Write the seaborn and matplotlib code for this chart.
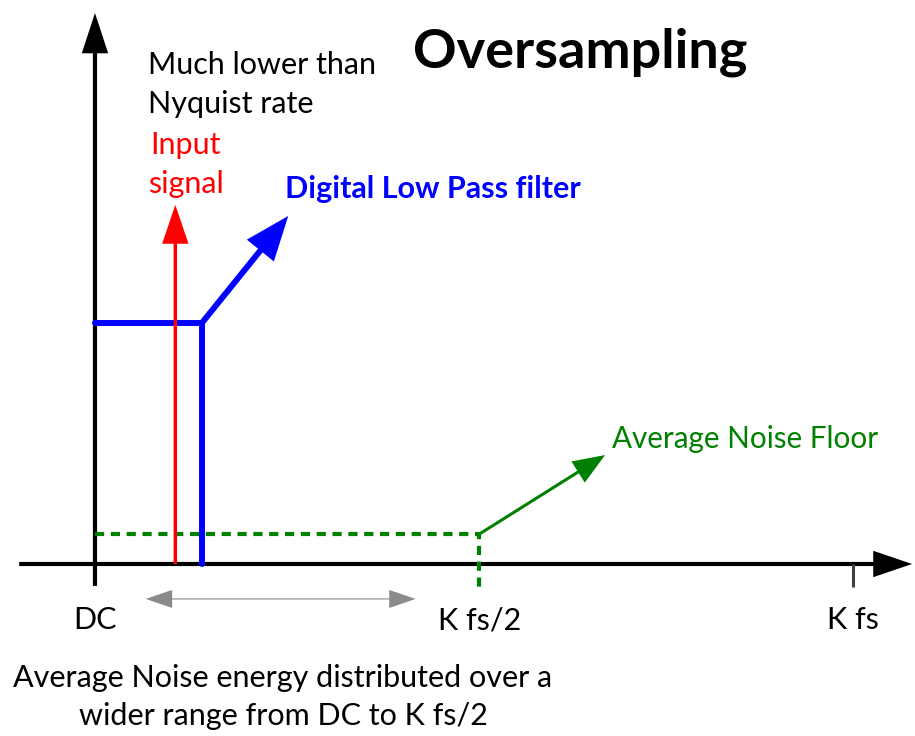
import matplotlib
matplotlib.use("Agg")
import matplotlib.pyplot as plt
import seaborn as sns

# values
# x: DC = 0 ... K fs = 1,  y: filter pass band level = 1
freq_labels = ["DC", "K fs/2", "K fs"]
freq_pos = [0.0, 0.507, 1.0]

signal_freq = 0.106
signal_amp = 1.49

filter_x = [0.0, 0.141, 0.141]
filter_y = [1.0, 1.0, 0.0]

noise_x = [0.0, 0.507, 0.507]
noise_y = [0.124, 0.124, -0.12]

title = "Oversampling"
note_lines = ["Much lower than", "Nyquist rate"]
signal_lines = ["Input", "signal"]
filter_label = "Digital Low Pass filter"
noise_label = "Average Noise Floor"
caption_lines = ["Average Noise energy distributed over a",
                 "wider range from DC to K fs/2"]

sns.set_theme(style="white")
plt.rcParams["font.family"] = ["Lato", "DejaVu Sans"]
plt.rcParams["text.color"] = "black"

fig = plt.figure(figsize=(9.15, 7.36), dpi=100)
ax = fig.add_axes([0, 0, 1, 1])


def arrow(x0, y0, x1, y1, color, w, hw, hl, z=2):
    ax.annotate("", xy=(x1, y1), xytext=(x0, y0), zorder=z,
                arrowprops=dict(facecolor=color, edgecolor=color, linewidth=0,
                                width=w, headwidth=hw, headlength=hl, shrink=0))


# axes arrows
arrow(0, -0.091, 0, 2.286, "black", 3, 19, 29)
arrow(-0.1, 0, 1.078, 0, "black", 3, 19, 28)
ax.plot([freq_pos[2], freq_pos[2]], [0, -0.095], color="#404040", lw=2.2,
        solid_capstyle="butt")

# noise floor (dashed) down to K fs/2
sns.lineplot(x=noise_x, y=noise_y, ax=ax, sort=False, estimator=None,
             color="#008000", linewidth=3, linestyle=(0, (2.2, 1.6)))

# input signal
arrow(signal_freq, 0, signal_freq, signal_amp, "#ff0000", 2.5, 19, 28, z=3)

# digital low pass filter
sns.lineplot(x=filter_x, y=filter_y, ax=ax, sort=False, estimator=None,
             color="#0000ff", linewidth=4.3, solid_joinstyle="miter")
arrow(filter_x[1], filter_y[1], 0.255, 1.444, "#0000ff", 4.3, 25, 32, z=3)

# noise floor pointer
arrow(noise_x[1], noise_y[1], 0.673, 0.452, "#008000", 2.2, 18, 23, z=3)

# range arrow below the axis
arrow(0.245, -0.145, 0.067, -0.145, "#8a8a8a", 0.8, 13, 19)
arrow(0.245, -0.145, 0.423, -0.145, "#8a8a8a", 0.8, 13, 19)

# texts
ax.text(0.64, 2.058, title, fontsize=39, fontweight="bold",
        ha="center", va="baseline")
ax.text(0.07, 2.033, note_lines[0], fontsize=22, ha="left", va="baseline")
ax.text(0.07, 1.871, note_lines[1], fontsize=22, ha="left", va="baseline")
ax.text(0.120, 1.701, signal_lines[0], fontsize=22, color="#ff0000",
        ha="center", va="baseline")
ax.text(0.120, 1.539, signal_lines[1], fontsize=22, color="#ff0000",
        ha="center", va="baseline")
ax.text(0.251, 1.519, filter_label, fontsize=22, fontweight="bold",
        color="#0000ff", ha="left", va="baseline")
ax.text(0.682, 0.481, noise_label, fontsize=21.3, color="#008000",
        ha="left", va="baseline")
for lab, pos in zip(freq_labels, freq_pos):
    ax.text(pos, -0.27, lab, fontsize=22, ha="center", va="baseline")
ax.text(0.248, -0.510, caption_lines[0], fontsize=22, ha="center", va="baseline")
ax.text(0.248, -0.668, caption_lines[1], fontsize=22, ha="center", va="baseline")

ax.set_xlim(-0.1253, 1.0818)
ax.set_ylim(-0.7137, 2.340)
ax.set_axis_off()

fig.savefig("out.png", dpi=100, facecolor="white")
